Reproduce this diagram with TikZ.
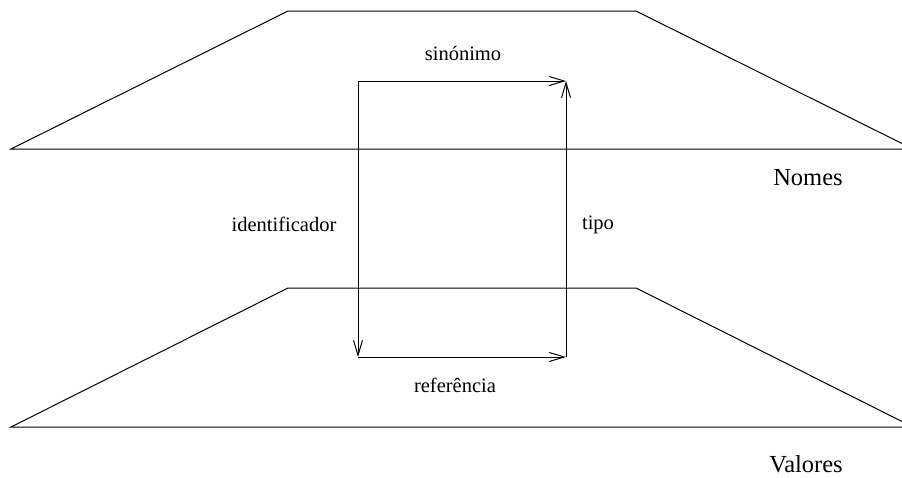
\documentclass[tikz,border=0pt]{standalone}
\usepackage{fontspec}
\setmainfont{Liberation Serif}
\usetikzlibrary{arrows.meta}
\tikzset{
        lbl/.style = {inner sep=0pt, font=\fontsize{20.5}{24}\selectfont},
        lbl_big/.style = {inner sep=0pt, font=\fontsize{24.5}{28}\selectfont},
        rel/.style = {-{Straight Barb[length=15pt,width=9pt]}, line width=1pt},
        plane/.style = {line width=1pt}
    }
\begin{document}
\begin{tikzpicture}[x=1pt,y=-1pt]
            \useasboundingbox (0,0) rectangle (902,477);
            \clip (0,0) rectangle (902,477);
            % Nomes
            \coordinate (n_bl) at (11,149);
            \coordinate (n_tl) at (288,11);
            \coordinate (n_tr) at (636,11);
            \coordinate (n_br) at (913,149);
            \draw [plane] (n_bl) -- (n_tl) -- (n_tr) -- (n_br) -- cycle;
            % Valores
            \coordinate (v_bl) at (11,427);
            \coordinate (v_tl) at (288,288);
            \coordinate (v_tr) at (636,288);
            \coordinate (v_br) at (913,427);
            \draw [plane] (v_bl) -- (v_tl) -- (v_tr) -- (v_br) -- cycle;
            % corners of the relations
            \coordinate (r_nw) at (358,81);
            \coordinate (r_ne) at (566,81);
            \coordinate (r_sw) at (358,357);
            \coordinate (r_se) at (566,357);
            \draw [rel] (r_nw) -- (r_ne);
            \draw [rel] (r_nw) -- (r_sw);
            \draw [rel] (r_sw) -- (r_se);
            \draw [rel] (r_se) -- (r_ne);
            % labels
            \node [lbl] (sinonimo) at (463,53) {sinónimo};
            \node [lbl] (identificador) at (284,224) {identificador};
            \node [lbl] (tipo) at (598,225) {tipo};
            \node [lbl] (referencia) at (455,385) {referência};
            \node [lbl_big] (nomes) at (808,178) {Nomes};
            \node [lbl_big] (valores) at (806,464) {Valores};
        \end{tikzpicture}
\end{document}
